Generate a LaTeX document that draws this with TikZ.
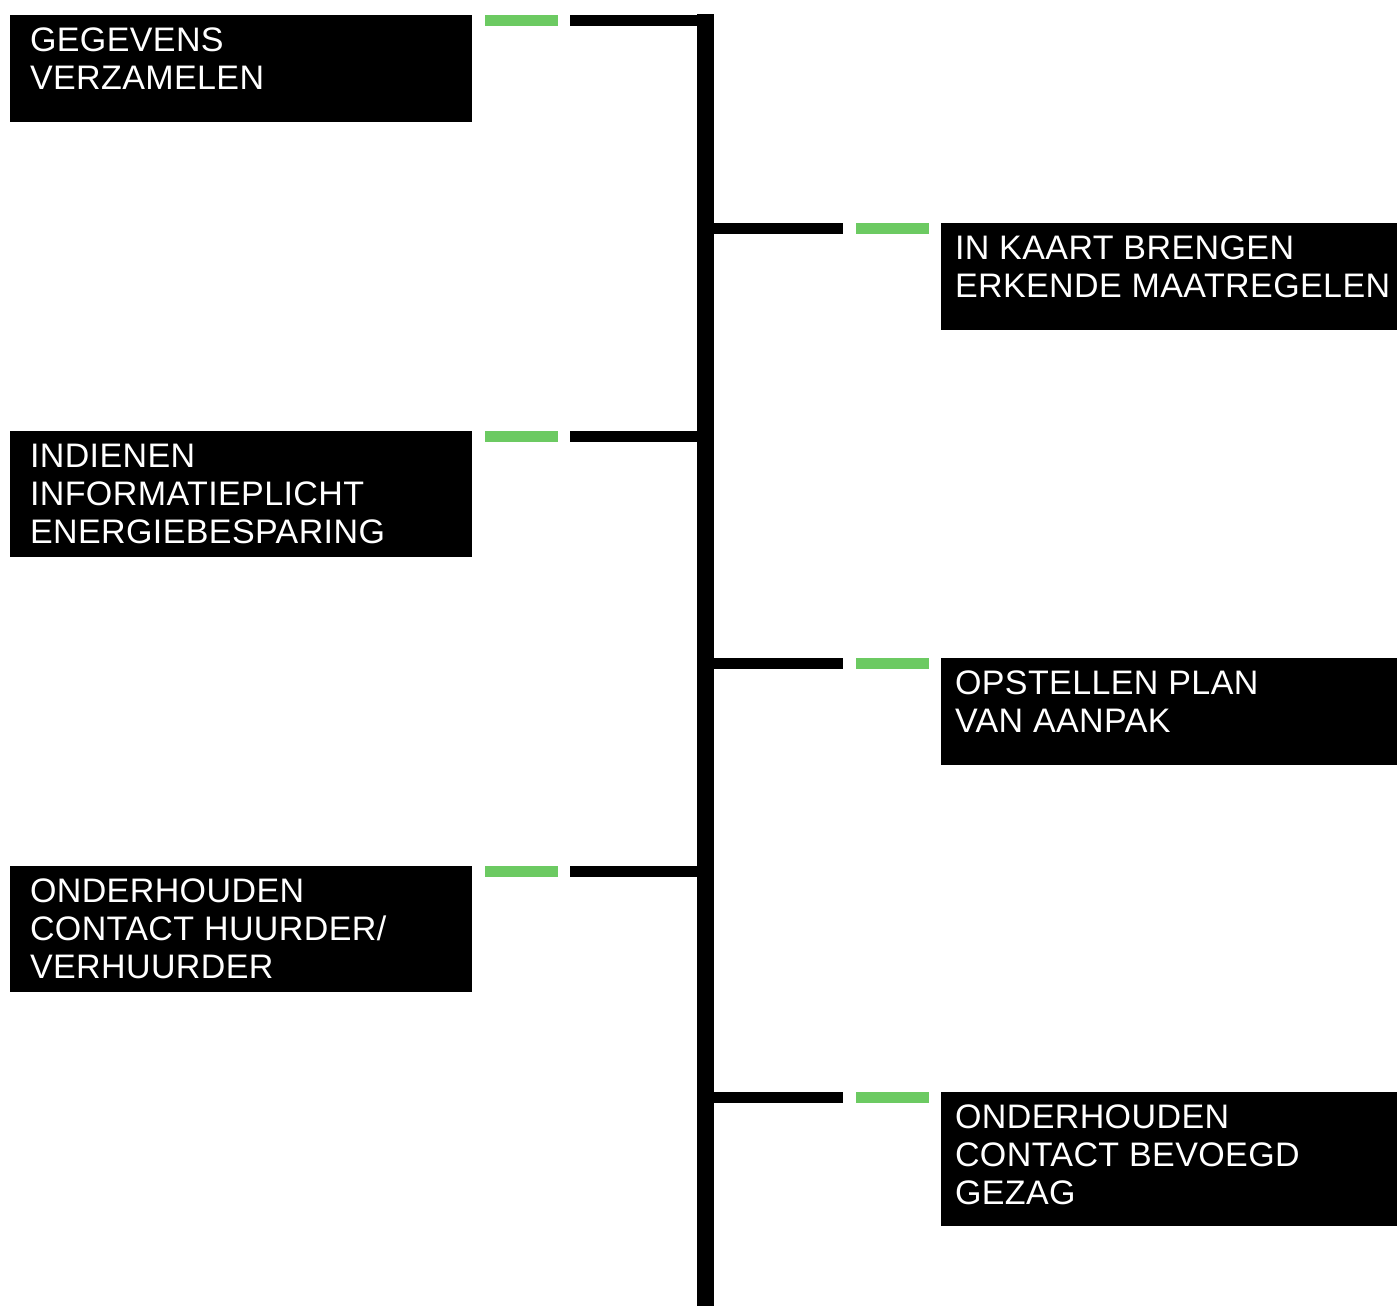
\documentclass[tikz,border=0pt]{standalone}
\usepackage{fontspec}
\setmainfont{Liberation Sans}
\definecolor{grn}{HTML}{6CCA62}
\begin{document}
\begin{tikzpicture}[x=1pt,y=-1pt,
  box/.style={fill=black,inner sep=0pt,outer sep=0pt,anchor=north west},
  txt/.style={text=white,inner sep=0pt,outer sep=0pt,anchor=base west,font=\fontsize{34}{38}\selectfont\addfontfeature{LetterSpace=1.2}},
  blk/.style={line width=11pt,draw=black},
  gline/.style={line width=11pt,draw=grn}]
\useasboundingbox (0,0) rectangle (1397,1306);
% spine
\node[box,minimum width=17pt,minimum height=1292pt] (spine) at (697,14) {};
% left boxes
\node[box,minimum width=462pt,minimum height=107pt] (b1) at (10,15) {};
\node[box,minimum width=462pt,minimum height=126pt] (b3) at (10,431) {};
\node[box,minimum width=462pt,minimum height=126pt] (b5) at (10,866) {};
% right boxes
\node[box,minimum width=456pt,minimum height=107pt] (b2) at (941,223) {};
\node[box,minimum width=456pt,minimum height=107pt] (b4) at (941,658) {};
\node[box,minimum width=456pt,minimum height=134pt] (b6) at (941,1092) {};
% texts
\node[txt] (t1) at ([shift={(20,37)}]b1.north west) {\vtop{\hbox{GEGEVENS}\hbox{VERZAMELEN}}};
\node[txt] (t3) at ([shift={(20,36)}]b3.north west) {\vtop{\hbox{INDIENEN}\hbox{INFORMATIEPLICHT}\hbox{ENERGIEBESPARING}}};
\node[txt] (t5) at ([shift={(20,36)}]b5.north west) {\vtop{\hbox{ONDERHOUDEN}\hbox{CONTACT HUURDER/}\hbox{VERHUURDER}}};
\node[txt] (t2) at ([shift={(14,36)}]b2.north west) {\vtop{\hbox{IN KAART BRENGEN}\hbox{ERKENDE MAATREGELEN}}};
\node[txt] (t4) at ([shift={(14,36)}]b4.north west) {\vtop{\hbox{OPSTELLEN PLAN}\hbox{VAN AANPAK}}};
\node[txt] (t6) at ([shift={(14,36)}]b6.north west) {\vtop{\hbox{ONDERHOUDEN}\hbox{CONTACT BEVOEGD}\hbox{GEZAG}}};
% left connectors
\foreach \b in {b1,b3,b5}{
  \draw[gline] ([shift={(13,5.5)}]\b.north east) -- ([shift={(86,5.5)}]\b.north east);
  \draw[blk] ([shift={(98,5.5)}]\b.north east) -- ([yshift=-5.5pt]\b.north east -| spine.east);
}
% right connectors
\foreach \b in {b2,b4,b6}{
  \draw[blk] ([yshift=-5.5pt]\b.north west -| spine.west) -- ([shift={(-98,5.5)}]\b.north west);
  \draw[gline] ([shift={(-85,5.5)}]\b.north west) -- ([shift={(-12,5.5)}]\b.north west);
}
\end{tikzpicture}
\end{document}
